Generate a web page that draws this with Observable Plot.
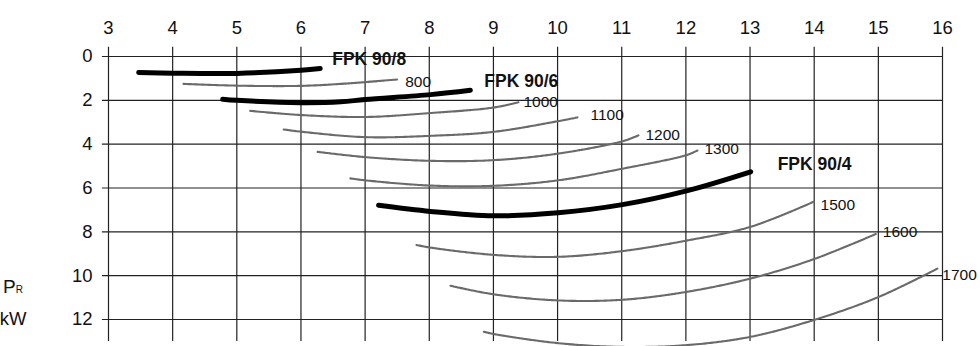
<!DOCTYPE html>
<html>
<head>
<meta charset="utf-8">
<script src="https://cdn.jsdelivr.net/npm/d3@7"></script>
<script src="https://cdn.jsdelivr.net/npm/@observablehq/plot@0.6"></script>
<style>
  html, body { margin: 0; padding: 0; background: #fff; }
  #chart { position: relative; width: 980px; height: 346px; overflow: hidden; }
</style>
</head>
<body>
<div id="chart"></div>
<script>
// Axis ticks: speed/flow on top, power P_R (kW) downwards on the left
const xTicks = [3, 4, 5, 6, 7, 8, 9, 10, 11, 12, 13, 14, 15, 16];
const yTicks = [0, 2, 4, 6, 8, 10, 12];

// Characteristic curves as [x, P_R] pairs
const fpk90_8 = [[3.47, 0.73], [4.0, 0.76], [5.0, 0.77], [6.0, 0.63], [6.3, 0.55]];
const n800    = [[4.17, 1.25], [5.0, 1.33], [6.0, 1.34], [6.62, 1.25], [7.5, 1.05]];
const fpk90_6 = [[4.78, 1.95], [5.0, 2.0], [6.0, 2.11], [6.62, 2.07], [7.0, 1.96], [8.02, 1.74], [8.64, 1.54]];
const n1000   = [[5.21, 2.48], [6.0, 2.67], [7.0, 2.76], [8.02, 2.58], [9.0, 2.33], [9.39, 2.09]];
const n1100   = [[5.73, 3.33], [6.0, 3.43], [7.0, 3.68], [8.02, 3.62], [9.0, 3.44], [10.01, 2.95], [10.31, 2.78]];
const n1200   = [[6.26, 4.35], [7.0, 4.59], [8.02, 4.76], [9.0, 4.73], [10.01, 4.43], [11.01, 3.87], [11.26, 3.6]];
const n1300   = [[6.77, 5.56], [7.0, 5.65], [8.02, 5.89], [9.0, 5.9], [10.01, 5.65], [11.01, 5.12], [12.01, 4.5], [12.18, 4.29]];
const fpk90_4 = [[7.21, 6.79], [8.02, 7.07], [9.0, 7.27], [10.01, 7.13], [11.01, 6.76], [12.01, 6.13], [13.01, 5.26]];
const n1500   = [[7.8, 8.6], [8.02, 8.72], [9.0, 9.05], [10.01, 9.14], [11.01, 8.88], [12.01, 8.4], [13.01, 7.77], [13.99, 6.63]];
const n1600   = [[8.33, 10.46], [9.0, 10.85], [10.01, 11.13], [11.01, 11.1], [12.01, 10.74], [13.01, 10.13], [14.01, 9.23], [14.96, 8.1]];
const n1700   = [[8.85, 12.56], [9.0, 12.66], [10.01, 13.08], [11.01, 13.25], [12.01, 13.17], [13.01, 12.79], [14.01, 12.01], [14.99, 10.99], [15.92, 9.68]];

const curveLabels = ["FPK 90/8", "800", "FPK 90/6", "1000", "1100", "1200", "1300", "FPK 90/4", "1500", "1600", "1700"];
const curvePoints = [fpk90_8, n800, fpk90_6, n1000, n1100, n1200, n1300, fpk90_4, n1500, n1600, n1700];

// Label offsets (px) from each curve's end point
const nudge = {
  "FPK 90/8": [12, -9], "800": [8, 3], "FPK 90/6": [14, -9], "1000": [5, 0],
  "1100": [13, -2], "1200": [7, 0], "1300": [7, -1], "FPK 90/4": [27, -7],
  "1500": [7, 3], "1600": [7, -2], "1700": [5, 6]
};

const isMain = name => name.startsWith("FPK");
const rows = curveLabels.flatMap((name, i) =>
  curvePoints[i].map(([x, y]) => ({curve: name, x, y}))
);
const mainRows = rows.filter(d => isMain(d.curve));
const thinRows = rows.filter(d => !isMain(d.curve));

const font = "'Liberation Sans', Arial, Helvetica, sans-serif";
const ink = "#111";

const labelMarks = curveLabels.map((name, i) => {
  const pts = curvePoints[i];
  const [x, y] = pts[pts.length - 1];
  const [dx, dy] = nudge[name];
  return Plot.text([{x, y, name}], {
    x: "x", y: "y", text: "name",
    textAnchor: "start", dx, dy,
    fontSize: isMain(name) ? 17.5 : 15.5,
    fontWeight: isMain(name) ? "bold" : "normal",
    fill: ink
  });
});

const plot = Plot.plot({
  width: 980,
  height: 346,
  marginTop: 56,
  marginBottom: 27,
  marginLeft: 108,
  marginRight: 38,
  style: {fontFamily: font, color: ink, background: "#fff", overflow: "hidden"},
  x: {domain: [3, 16], axis: null},
  y: {domain: [0, 12], reverse: true, axis: null},
  marks: [
    // grid: horizontal lines reach a little left of the frame as tick marks
    Plot.ruleY(yTicks, {x1: 2.905, x2: 16, stroke: "#222", strokeWidth: 1.2}),
    Plot.ruleX(xTicks, {y1: -0.42, y2: 13, stroke: "#222", strokeWidth: 1.2}),
    // tick labels
    Plot.text(xTicks, {x: d => d, frameAnchor: "top", dy: -36, text: d => String(d), fontSize: 18.5, fill: ink}),
    Plot.text(yTicks, {y: d => d, frameAnchor: "left", textAnchor: "end", dx: -16, text: d => String(d), fontSize: 18.5, fill: ink}),
    // curves
    Plot.line(thinRows, {x: "x", y: "y", z: "curve", curve: "catmull-rom", stroke: "#6a6a6a", strokeWidth: 2.1, strokeDasharray: "2.5,0.8"}),
    Plot.line(mainRows, {x: "x", y: "y", z: "curve", curve: "catmull-rom", stroke: "#000", strokeWidth: 5, strokeLinecap: "round"}),
    ...labelMarks
  ]
});

document.getElementById("chart").appendChild(plot);

// Y-axis title: P with subscript R, unit kW
const svg = d3.select(plot);
const title = svg.append("text")
  .attr("x", 13).attr("y", 293)
  .attr("font-family", font).attr("fill", ink);
title.append("tspan").attr("font-size", 19).text("P");
title.append("tspan").attr("font-size", 10).text("R");
svg.append("text")
  .attr("x", 13).attr("y", 325)
  .attr("font-family", font).attr("font-size", 18.5).attr("fill", ink)
  .text("kW");
</script>
</body>
</html>
